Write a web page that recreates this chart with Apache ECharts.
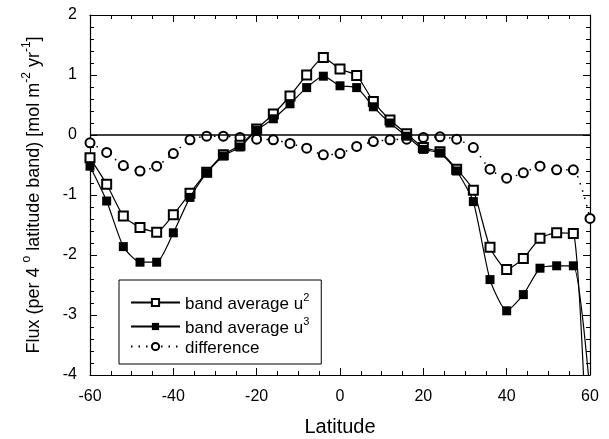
<!DOCTYPE html>
<html>
<head>
<meta charset="utf-8">
<script src="https://cdn.jsdelivr.net/npm/echarts@6/dist/echarts.min.js"></script>
<style>
  html, body { margin: 0; padding: 0; background: #fff; }
  #main { width: 609px; height: 439px; }
</style>
</head>
<body>
<div id="main"></div>
<script>
// latitude of each 4 degree band
var lat = [-60, -56, -52, -48, -44, -40, -36, -32, -28, -24, -20, -16, -12, -8, -4,
  0, 4, 8, 12, 16, 20, 24, 28, 32, 36, 40, 44, 48, 52, 56, 60];
// band average u^2
var fluxU2 = [-0.38, -0.82, -1.35, -1.54, -1.62, -1.33, -0.97, -0.62, -0.33, -0.17, 0.1,
  0.35, 0.65, 1.0, 1.29, 1.1, 0.99, 0.56, 0.25, 0.02, -0.21, -0.28, -0.57, -0.92,
  -1.87, -2.24, -2.06, -1.72, -1.63, -1.64, -6.6];
// band average u^3
var fluxU3 = [-0.52, -1.1, -1.86, -2.12, -2.12, -1.63, -1.04, -0.63, -0.35, -0.2, 0.08,
  0.27, 0.52, 0.79, 0.98, 0.82, 0.79, 0.47, 0.2, -0.02, -0.24, -0.3, -0.6, -1.11,
  -2.41, -2.93, -2.66, -2.22, -2.18, -2.18, -4.3];
// difference
var fluxDiff = [-0.13, -0.29, -0.51, -0.6, -0.52, -0.31, -0.08, -0.02, -0.02, -0.04, -0.07,
  -0.08, -0.14, -0.22, -0.33, -0.31, -0.19, -0.11, -0.08, -0.07, -0.04, -0.03, -0.07,
  -0.21, -0.57, -0.72, -0.63, -0.52, -0.58, -0.58, -1.39];

var font = "'Liberation Sans', Arial, sans-serif";

function pairs(vals) {
  return lat.map(function (x, i) { return [x, vals[i]]; });
}

var chart = echarts.init(document.getElementById('main'));

var tickCommon = {
  axisLine: {show: true, onZero: false, lineStyle: {color: '#000', width: 1.2}},
  axisTick: {show: true, inside: true, length: 7, lineStyle: {color: '#000', width: 1}},
  minorTick: {show: true, length: 4, lineStyle: {color: '#000', width: 1}},
  splitLine: {show: false}
};

// text with superscripts (rich text)
var rich = {
  a: {fontFamily: font, fontSize: 17, color: '#000', lineHeight: 21, verticalAlign: 'bottom'},
  s: {fontFamily: font, fontSize: 11, color: '#000', lineHeight: 21, verticalAlign: 'top'}
};
var richName = {
  a: {fontFamily: font, fontSize: 18, color: '#000', lineHeight: 22, verticalAlign: 'bottom'},
  s: {fontFamily: font, fontSize: 12, color: '#000', lineHeight: 22, verticalAlign: 'top'}
};

chart.setOption({
  backgroundColor: '#fff',
  animation: false,
  grid: {left: 90, right: 19, top: 15, bottom: 64, containLabel: false, outerBoundsMode: 'none'},
  xAxis: [
    Object.assign({
      type: 'value', min: -60, max: 60, interval: 20, position: 'bottom',
      minorTick: Object.assign({}, tickCommon.minorTick, {splitNumber: 4}),
      axisLabel: {color: '#000', fontFamily: font, fontSize: 16, margin: 14},
      name: 'Latitude', nameLocation: 'middle', nameGap: 42,
      nameTextStyle: {color: '#000', fontFamily: font, fontSize: 20}
    }, {axisLine: tickCommon.axisLine, axisTick: tickCommon.axisTick, splitLine: tickCommon.splitLine}),
    Object.assign({
      type: 'value', min: -60, max: 60, interval: 20, position: 'top',
      minorTick: Object.assign({}, tickCommon.minorTick, {splitNumber: 4}),
      axisLabel: {show: false}
    }, {axisLine: tickCommon.axisLine, axisTick: tickCommon.axisTick, splitLine: tickCommon.splitLine})
  ],
  yAxis: [
    Object.assign({
      type: 'value', min: -4, max: 2, interval: 1, position: 'left',
      minorTick: Object.assign({}, tickCommon.minorTick, {splitNumber: 5}),
      axisLabel: {color: '#000', fontFamily: font, fontSize: 16, margin: 13},
      name: '{a|Flux (per 4 }{s|o}{a| latitude band) [mol m}{s|-2}{a| yr}{s|-1}{a|]}',
      nameLocation: 'middle', nameGap: 47, nameRotate: 90,
      nameTextStyle: {rich: richName}
    }, {axisLine: tickCommon.axisLine, axisTick: tickCommon.axisTick, splitLine: tickCommon.splitLine}),
    Object.assign({
      type: 'value', min: -4, max: 2, interval: 1, position: 'right',
      minorTick: Object.assign({}, tickCommon.minorTick, {splitNumber: 5}),
      axisLabel: {show: false}
    }, {axisLine: tickCommon.axisLine, axisTick: tickCommon.axisTick, splitLine: tickCommon.splitLine})
  ],
  legend: {
    orient: 'vertical', left: 119, top: 280,
    width: 180,
    backgroundColor: '#fff', borderColor: '#000', borderWidth: 1, borderRadius: 0,
    padding: [12, 12, 7, 11], itemGap: 3, itemWidth: 49, itemHeight: 9,
    data: ['u2', 'u3', 'diff'],
    formatter: function (name) {
      if (name === 'u2') return '{a|band average u}{s|2}';
      if (name === 'u3') return '{a|band average u}{s|3}';
      return '{a|difference}';
    },
    textStyle: {rich: rich}
  },
  series: [
    {
      name: 'u2', type: 'line', data: pairs(fluxU2), smooth: 0.2, clip: true,
      symbol: 'emptyRect', symbolSize: 9,
      itemStyle: {color: '#000', borderWidth: 1},
      lineStyle: {color: '#000', width: 1.2},
      markLine: {
        silent: true, symbol: 'none', label: {show: false},
        lineStyle: {color: '#000', width: 1.6, type: 'solid'},
        data: [{yAxis: 0}]
      },
      z: 3
    },
    {
      name: 'u3', type: 'line', data: pairs(fluxU3), smooth: 0.2, clip: true,
      symbol: 'rect', symbolSize: 9,
      itemStyle: {color: '#000'},
      lineStyle: {color: '#000', width: 1.2},
      z: 4
    },
    {
      name: 'diff', type: 'line', data: pairs(fluxDiff), smooth: 0.2, clip: false,
      symbol: 'emptyCircle', symbolSize: 9,
      itemStyle: {color: '#000', borderWidth: 1},
      lineStyle: {color: '#000', width: 1.5, type: [1.5, 6]},
      z: 2
    }
  ]
});
</script>
</body>
</html>
